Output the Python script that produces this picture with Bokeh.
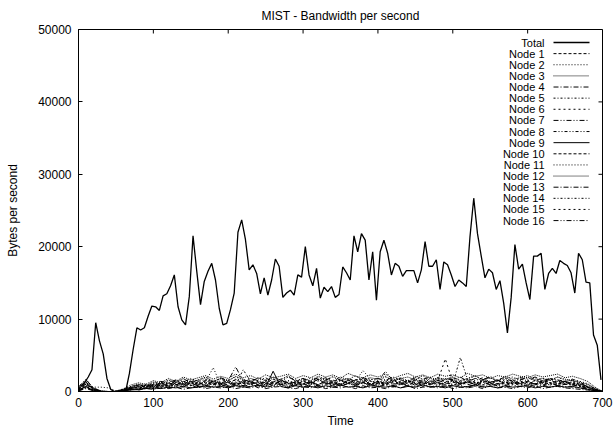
from bokeh.plotting import figure
from bokeh.models import Range1d, FixedTicker
from bokeh.embed import file_html
from bokeh.resources import INLINE
from bokeh.core.properties import value

FONT = "Liberation Sans"

# ---------------- data ----------------
title_text = "MIST - Bandwidth per second"
total_step = 5
total_start = 3
total = [
    700, 1200, 2000, 3000, 9500, 7000, 5200, 1800, 300, 0,
    0, 0, 0, 2500, 5800, 8800, 8500, 8800, 10400, 11800,
    11700, 11200, 13200, 13500, 14600, 16100, 11700, 9900, 9200, 13100,
    21500, 16600, 12000, 15200, 16600, 17700, 15400, 11500, 9200, 9400,
    11300, 13600, 22000, 23700, 21000, 16800, 17500, 16300, 13500, 15700,
    13300, 15400, 18300, 17300, 13000, 13600, 14000, 13300, 16100, 15800,
    20000, 16100, 14600, 17000, 12900, 14400, 13800, 14500, 13000, 13400,
    17200, 16400, 15400, 21500, 19300, 21800, 20900, 15400, 19300, 12600,
    19300, 20900, 19100, 16100, 17700, 17300, 15900, 16700, 16700, 16700,
    15000, 16800, 20700, 17300, 17300, 18200, 14100, 17900, 17500, 16100,
    14500, 15400, 15000, 14500, 21400, 26700, 21800, 18700, 15700, 16900,
    16400, 14100, 15300, 12200, 8100, 13000, 20300, 16900, 17600, 15000,
    12700, 18700, 18700, 19100, 14100, 16300, 17000, 16300, 18100, 17700,
    17400, 16400, 13600, 19100, 18200, 15100, 15000, 7800, 6400, 1600,
]
total_time = [total_start + total_step * k for k in range(len(total))]

node_step = 10
node1 = [300, 1100, 500, 0, 0, 0, 200, 600, 400, 900,
         600, 1300, 800, 1500, 900, 1200, 700, 1600, 1000, 1400,
         800, 1700, 1100, 1500, 900, 1400, 700, 1600, 1200, 800,
         1500, 1000, 1700, 1100, 1400, 800, 1600, 1200, 1800, 1000,
         1400, 900, 1700, 1200, 1500, 800, 1600, 1100, 1900, 1300,
         1700, 1000, 1500, 900, 1600, 1200, 800, 1700, 1100, 1500,
         900, 1600, 1200, 1800, 1000, 1400, 900, 1200, 600, 300,
         0]
node2 = [100, 800, 600, 600, 500, 100, 300, 200, 700, 400,
         900, 500, 1100, 700, 1300, 800, 1000, 1400, 3300, 900,
         1300, 700, 1500, 1000, 1200, 600, 1400, 1100, 700, 1300,
         1000, 1500, 800, 1200, 1600, 900, 1300, 700, 1400, 1100,
         800, 1500, 1000, 1300, 700, 1600, 1100, 1400, 900, 1200,
         1500, 800, 1300, 1000, 1600, 1100, 700, 1400, 1000, 1300,
         800, 1500, 1100, 900, 1400, 1000, 1200, 800, 500, 200,
         0]
node3 = [600, 1400, 400, 100, 0, 0, 100, 700, 1000, 800,
         1300, 1000, 1600, 1200, 1800, 1300, 1600, 2000, 1400, 1800,
         1500, 2100, 1700, 1300, 1900, 1500, 2000, 1600, 2200, 1400,
         1800, 1500, 2100, 1700, 1400, 2000, 1600, 2200, 1500, 1900,
         1700, 2100, 1400, 1800, 2000, 1600, 2200, 1500, 1900, 1700,
         2000, 1500, 1800, 2200, 1600, 1900, 1400, 2100, 1700, 1900,
         2200, 1600, 1800, 1500, 2000, 1700, 1500, 1300, 1000, 400,
         0]
node4 = [200, 600, 100, 0, 0, 0, 100, 400, 300, 700,
         500, 900, 600, 1000, 700, 1100, 800, 600, 1200, 900,
         700, 1100, 800, 1300, 900, 700, 1200, 1000, 600, 1100,
         900, 1300, 700, 1000, 1200, 800, 1100, 900, 1300, 700,
         1000, 1200, 800, 1100, 900, 1300, 700, 1000, 1200, 900,
         800, 1200, 1000, 700, 1300, 900, 1100, 800, 1200, 1000,
         700, 1100, 900, 1200, 800, 1000, 900, 700, 400, 100,
         0]
node5 = [400, 1200, 300, 0, 0, 0, 200, 500, 800, 600,
         1000, 700, 1200, 900, 1400, 1000, 1300, 800, 1500, 1100,
         1300, 900, 3000, 1400, 1000, 1600, 1200, 900, 1500, 1100,
         1400, 1000, 1700, 1200, 900, 1500, 1100, 1600, 1000, 1400,
         1200, 1700, 1000, 1400, 1100, 1600, 1300, 900, 1500, 1200,
         1600, 1100, 1400, 1000, 1700, 1200, 1500, 900, 1400, 1100,
         1500, 1000, 1600, 1200, 1400, 1100, 1300, 1000, 700, 300,
         0]
node6 = [200, 900, 300, 0, 0, 0, 100, 400, 600, 500,
         800, 1100, 700, 1200, 900, 1300, 1000, 800, 1400, 1100,
         900, 1300, 1000, 1500, 800, 1200, 1000, 1400, 900, 1300,
         1100, 800, 1500, 1000, 1200, 900, 1400, 1100, 1600, 1000,
         1300, 900, 1400, 1100, 1600, 1000, 1200, 900, 1500, 4500,
         1300, 1000, 1400, 1200, 900, 1500, 1100, 1300, 1000, 1400,
         1200, 900, 1300, 1100, 1500, 1000, 1200, 800, 600, 200,
         0]
node7 = [100, 500, 200, 0, 0, 0, 100, 300, 200, 500,
         400, 700, 500, 800, 600, 900, 500, 800, 700, 1000,
         600, 900, 700, 1000, 500, 800, 600, 1000, 700, 900,
         600, 1000, 800, 600, 900, 700, 1100, 800, 600, 1000,
         700, 900, 600, 1000, 800, 700, 1100, 600, 900, 700,
         1000, 800, 600, 900, 700, 1000, 800, 600, 900, 700,
         1000, 700, 900, 600, 800, 700, 600, 500, 300, 100,
         0]
node8 = [300, 1000, 300, 0, 0, 0, 300, 500, 700, 1000,
         800, 1200, 1000, 1400, 1100, 1600, 1200, 1500, 1000, 1700,
         1300, 1600, 1100, 1800, 1400, 1200, 1700, 1300, 1500, 1100,
         1700, 1300, 1600, 1900, 1400, 1700, 1200, 1600, 1800, 1400,
         1300, 2800, 1500, 1800, 1300, 1700, 1400, 1900, 1200, 1600,
         1800, 1300, 1700, 1500, 1900, 1300, 1600, 2000, 1400, 1700,
         1500, 1900, 1300, 1800, 1500, 1300, 1700, 1200, 900, 400,
         0]
node9 = [200, 700, 100, 0, 0, 0, 100, 200, 300, 400,
         500, 400, 600, 500, 700, 500, 600, 800, 600, 700,
         500, 800, 600, 700, 900, 600, 2800, 700, 500, 800,
         600, 700, 500, 800, 600, 900, 600, 700, 500, 800,
         700, 600, 800, 500, 700, 600, 900, 600, 700, 500,
         800, 600, 700, 900, 600, 700, 500, 800, 600, 700,
         800, 500, 700, 600, 800, 600, 700, 500, 300, 100,
         0]
node10 = [400, 1300, 300, 0, 0, 0, 100, 500, 800, 600,
          1000, 800, 1200, 900, 1100, 1400, 1000, 1300, 900, 1200,
          1500, 1000, 1300, 900, 1400, 1100, 800, 1500, 1100, 1300,
          1000, 1400, 900, 1500, 1200, 1000, 1600, 1100, 1300, 900,
          1400, 1100, 1600, 1000, 1300, 1500, 1000, 1400, 1200, 1000,
          1500, 1100, 1300, 900, 1400, 1200, 1600, 1000, 1300, 1100,
          1400, 1000, 1500, 1200, 900, 1400, 1100, 900, 600, 200,
          0]
node11 = [100, 600, 100, 0, 0, 0, 400, 700, 1000, 800,
          1200, 1000, 1500, 1200, 1700, 1300, 1600, 1900, 1400, 1800,
          1500, 2000, 1600, 1400, 1900, 1500, 1800, 1300, 2000, 1600,
          1400, 1900, 1700, 1500, 2100, 1600, 1800, 1400, 2900, 1700,
          1500, 2000, 1600, 1900, 1500, 2100, 1700, 1400, 1900, 1600,
          2000, 1500, 1800, 2100, 1600, 1900, 1500, 1800, 2000, 1600,
          1900, 1500, 1800, 1600, 2000, 1500, 1700, 1400, 1100, 400,
          0]
node12 = [700, 1600, 500, 100, 0, 0, 300, 900, 1200, 1000,
          1500, 1200, 1800, 1400, 2000, 1600, 1900, 2200, 1700, 2100,
          1800, 2400, 1900, 2200, 1700, 2300, 1900, 2100, 2400, 1800,
          2200, 1900, 2400, 2000, 2300, 1800, 2500, 2100, 1900, 2300,
          2000, 2400, 1800, 2200, 2500, 2000, 2300, 1900, 2400, 2100,
          2300, 1900, 2500, 2100, 2300, 1800, 2200, 2000, 2400, 2100,
          1900, 2300, 2000, 2200, 2400, 1900, 2100, 1800, 1400, 600,
          0]
node13 = [100, 400, 100, 0, 0, 0, 100, 300, 200, 400,
          300, 500, 400, 600, 300, 500, 700, 400, 600, 500,
          700, 400, 600, 500, 800, 400, 600, 700, 500, 400,
          700, 500, 800, 400, 600, 500, 700, 400, 800, 500,
          600, 400, 700, 500, 800, 400, 600, 700, 500, 800,
          400, 600, 500, 700, 400, 800, 500, 600, 400, 700,
          500, 800, 400, 600, 700, 500, 400, 300, 200, 100,
          0]
node14 = [300, 1000, 400, 0, 0, 0, 200, 400, 600, 900,
          700, 1100, 800, 1200, 1000, 1300, 900, 1100, 1400, 1000,
          1300, 900, 1500, 1100, 1300, 900, 1400, 1200, 1000, 1500,
          1100, 1300, 900, 1400, 1000, 1600, 1200, 1000, 1300, 1500,
          1000, 1400, 1200, 900, 1500, 1100, 1300, 1000, 1600, 1200,
          1000, 4700, 1600, 1200, 1400, 1000, 1500, 1200, 1600, 1100,
          1400, 1000, 1300, 1600, 1100, 1300, 1000, 800, 600, 200,
          0]
node15 = [200, 700, 200, 0, 0, 0, 100, 300, 500, 400,
          700, 600, 900, 700, 1000, 800, 1200, 900, 1100, 800,
          1200, 1000, 800, 1300, 900, 1100, 1200, 900, 1300, 1000,
          800, 1200, 1000, 1300, 900, 1100, 1300, 800, 1200, 1000,
          1100, 900, 1300, 1000, 1200, 900, 1400, 1000, 1100, 900,
          1300, 1000, 1200, 1400, 900, 1200, 1000, 1300, 1100, 900,
          1300, 1000, 1200, 900, 1100, 1000, 900, 700, 400, 100,
          0]
node16 = [600, 1700, 400, 0, 0, 0, 300, 600, 900, 700,
          1100, 1400, 1200, 1600, 1300, 1800, 1400, 1700, 1300, 1900,
          1500, 3400, 1400, 1800, 1500, 1900, 1300, 1700, 2000, 1500,
          1800, 1400, 1900, 1600, 2000, 1500, 1800, 1400, 1900, 1600,
          1800, 1500, 2000, 1600, 1400, 1900, 1700, 2000, 1500, 1800,
          1600, 2000, 1400, 1800, 1600, 2100, 1500, 1800, 1400, 1900,
          1700, 2000, 1500, 1800, 1600, 1400, 1500, 1100, 700, 300,
          0]

nodes = [node1, node2, node3, node4, node5, node6, node7, node8,
         node9, node10, node11, node12, node13, node14, node15, node16]
node_names = ["Node %d" % (i + 1) for i in range(16)]
x_ticks = [0, 100, 200, 300, 400, 500, 600, 700]
y_ticks = [0, 10000, 20000, 30000, 40000, 50000]

# gnuplot's nine line types (cycled)
dash_types = ["solid", "3 2", "1 2", "1 1", "5 2 1 2", "2 2 1 2",
              "2 3", "5 2 1 2 1 2", "3 2 1 2 1 2"]

# ---------------- layout ----------------
W, H = 615, 430
FL, FR, FT, FB = 78, 602, 29, 391
XMAX, YMAX = 700, 50000
TICK_PX = 4

p = figure(width=W, height=H, output_backend="svg", toolbar_location=None,
           x_range=Range1d(0, XMAX), y_range=Range1d(0, YMAX),
           min_border_left=FL, min_border_right=W - FR,
           min_border_top=FT, min_border_bottom=H - FB,
           title=title_text)
p.background_fill_color = "white"
p.border_fill_color = "white"
p.outline_line_color = "black"
p.outline_line_width = 1
p.grid.visible = False
p.title.align = "center"
p.title.vertical_align = "top"
p.title.text_font = FONT
p.title.text_font_size = "12px"
p.title.text_font_style = "normal"
p.title.text_color = "black"
p.title.standoff = 10

for ax in (p.xaxis[0], p.yaxis[0]):
    ax.major_tick_in = TICK_PX
    ax.major_tick_out = 0
    ax.minor_tick_line_color = None
    ax.axis_line_color = "black"
    ax.major_tick_line_color = "black"
    ax.major_label_text_font = FONT
    ax.major_label_text_font_size = "12px"
    ax.major_label_text_color = "black"
    ax.axis_label_text_font = FONT
    ax.axis_label_text_font_size = "12px"
    ax.axis_label_text_font_style = "normal"
    ax.axis_label_text_color = "black"

p.xaxis.ticker = FixedTicker(ticks=x_ticks)
p.yaxis.ticker = FixedTicker(ticks=y_ticks)
p.xaxis.axis_label = "Time"
p.yaxis.axis_label = "Bytes per second"
p.xaxis.major_label_standoff = 6
p.xaxis.axis_label_standoff = 4
p.yaxis.major_label_standoff = 7
p.yaxis.axis_label_standoff = 15

def dx(px):
    return (px - FL) / (FR - FL) * XMAX

def dy(py):
    return (FB - py) / (FB - FT) * YMAX

# mirrored inward ticks on top and right borders
tick_dy = TICK_PX / (FB - FT) * YMAX
tick_dx = TICK_PX / (FR - FL) * XMAX
p.segment(x0=x_ticks, y0=[YMAX] * len(x_ticks), x1=x_ticks,
          y1=[YMAX - tick_dy] * len(x_ticks), line_color="black", line_width=1)
p.segment(x0=[XMAX] * len(y_ticks), y0=y_ticks, x1=[XMAX - tick_dx] * len(y_ticks),
          y1=y_ticks, line_color="black", line_width=1)

# ---------------- series ----------------
p.line(total_time, total, line_color="black", line_width=1.3, line_dash=dash_types[0])
for i, vals in enumerate(nodes):
    t = [node_step * k for k in range(len(vals))]
    p.line(t, vals, line_color="black", line_width=1,
           line_dash=dash_types[(i + 1) % 9])

# ---------------- key (gnuplot style: text left, sample right) ----------------
labels = ["Total"] + node_names
row0, row_step = 42, 11.13
text_right, s0, s1 = 544, 553, 589
for i, lab in enumerate(labels):
    yy = dy(row0 + row_step * i)
    p.text(x=[dx(text_right)], y=[yy], text=[lab], text_align="right",
           text_baseline="middle", text_font=value(FONT),
           text_font_size="11px", text_color="black")
    p.line([dx(s0), dx(s1)], [yy, yy], line_color="black",
           line_width=1.3 if i == 0 else 1, line_dash=dash_types[i % 9])

open("out.html", "w").write(file_html(p, INLINE))
